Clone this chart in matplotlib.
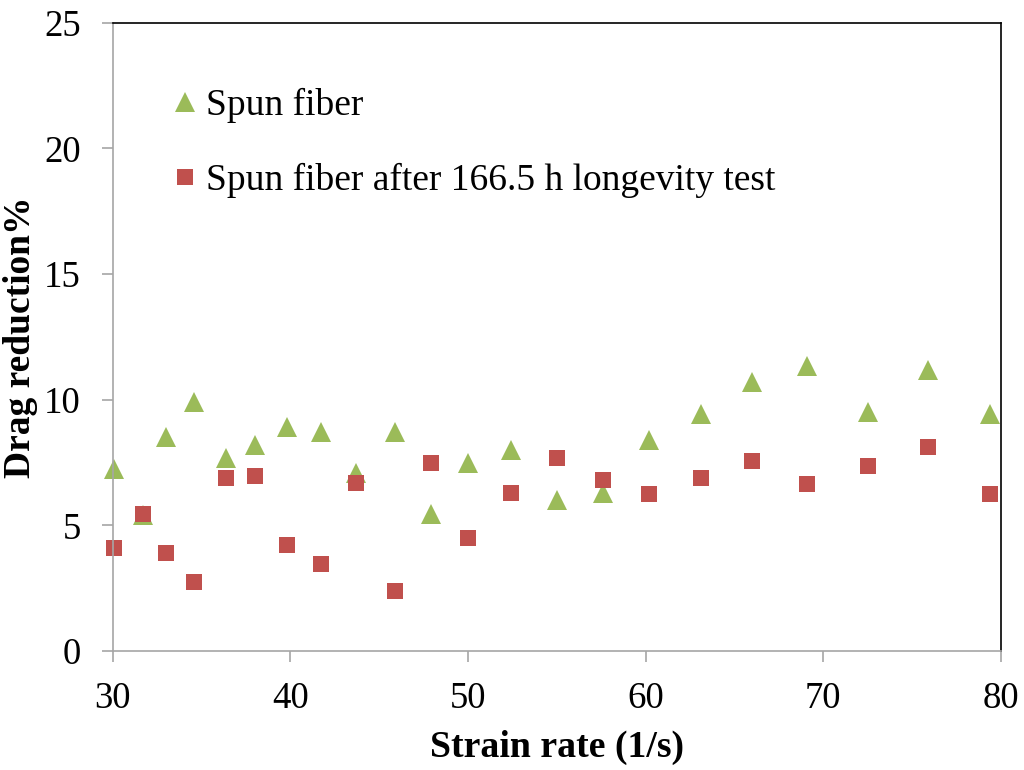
import numpy as np
import matplotlib
matplotlib.use('Agg')
import matplotlib.pyplot as plt

plt.rcParams['font.family'] = ['Liberation Serif', 'DejaVu Serif']

# strain rate (1/s), same for both series
strain_rate = [30.1, 31.7, 33.0, 34.6, 36.4, 38.0, 39.8, 41.7, 43.7, 45.9, 47.9,
               50.0, 52.4, 55.0, 57.6, 60.2, 63.1, 66.0, 69.1, 72.5, 75.9, 79.4]
spun_fiber = [7.25, 5.4, 8.5, 9.9, 7.7, 8.2, 8.9, 8.7, 7.1, 8.7, 5.45,
              7.5, 8.0, 6.0, 6.3, 8.4, 9.45, 10.7, 11.35, 9.5, 11.2, 9.45]
after_test = [4.1, 5.45, 3.9, 2.75, 6.9, 6.95, 4.2, 3.45, 6.7, 2.4, 7.5,
              4.5, 6.3, 7.7, 6.8, 6.25, 6.9, 7.55, 6.65, 7.35, 8.1, 6.25]

green = '#9BBB59'
red = '#C0504D'
grey = '#A6A6A6'

fig = plt.figure(figsize=(10.24, 7.7), dpi=100)
ax = fig.add_axes([0.110, 0.1545, 0.8675, 0.816])

ax.plot(strain_rate, spun_fiber, linestyle='none', marker='^', markersize=14,
        color=green, markeredgewidth=0, label='Spun fiber', clip_on=False)
ax.plot(strain_rate, after_test, linestyle='none', marker='s', markersize=11,
        color=red, markeredgewidth=0, label='Spun fiber after 166.5 h longevity test',
        clip_on=False)

ax.set_xlim(30, 80)
ax.set_ylim(0, 25)
ax.set_xticks(np.arange(30, 81, 10))
ax.set_yticks(np.arange(0, 26, 5))

for side in ['left', 'bottom']:
    ax.spines[side].set_color(grey)
    ax.spines[side].set_linewidth(1.2)
for side in ['top', 'right']:
    ax.spines[side].set_color('black')
    ax.spines[side].set_linewidth(1.2)

ax.tick_params(axis='both', direction='out', length=8, width=1.2, color=grey,
               labelsize=26.5)
ax.tick_params(axis='y', pad=15)
ax.tick_params(axis='x', pad=14)

ax.set_xlabel('Strain rate (1/s)', fontsize=27.2, fontweight='bold', labelpad=10)
ax.set_ylabel('Drag reduction%', fontsize=27, fontweight='bold', labelpad=4)

ax.legend(loc='upper left', bbox_to_anchor=(0.052, 0.92), frameon=False,
          fontsize=27, handlelength=0.6, handletextpad=0.25, labelspacing=1.07,
          borderaxespad=0)

fig.savefig('out.png', dpi=100)
